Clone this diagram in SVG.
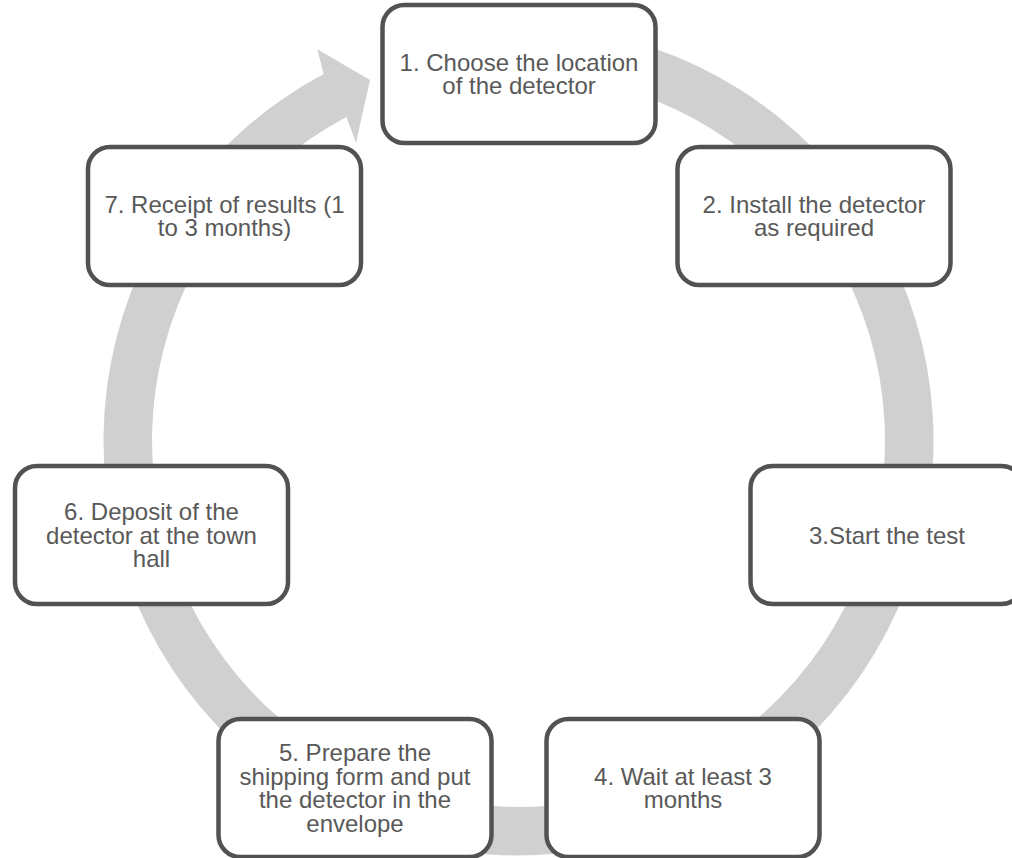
<svg xmlns="http://www.w3.org/2000/svg" width="1012" height="858" viewBox="0 0 1012 858">
<style>
.box{fill:#ffffff;stroke:#525252;stroke-width:4.5}
.lbl{font-family:"Liberation Sans",Arial,sans-serif;font-size:24px;fill:#595959;text-anchor:middle}
.ring{fill:#d0d0d0;stroke:none}
</style>
<rect x="0" y="0" width="1012" height="858" fill="#ffffff"/>
<g id="connectors">
<path class="ring" d="M554.67 27.08 A415 415 0 1 1 323.67 74.08 L317.3 49.3 L370 80 L356 142.7 L346.44 116.9 A366.5 366.5 0 1 0 550.44 75.4 Z"/>
</g>
<g id="node1">
<rect class="box" x="382.5" y="5" width="273" height="138" rx="22"/>
<text class="lbl" x="519" y="70.6">1. Choose the location</text>
<text class="lbl" x="519" y="94.4">of the detector</text>
</g>
<g id="node2">
<rect class="box" x="677.5" y="147" width="273" height="138" rx="22"/>
<text class="lbl" x="814" y="212.6">2. Install the detector</text>
<text class="lbl" x="814" y="236.4">as required</text>
</g>
<g id="node3">
<rect class="box" x="750.5" y="466" width="273" height="138" rx="22"/>
<text class="lbl" x="887" y="543.5">3.Start the test</text>
</g>
<g id="node4">
<rect class="box" x="546.5" y="719" width="273" height="138" rx="22"/>
<text class="lbl" x="683" y="784.6">4. Wait at least 3</text>
<text class="lbl" x="683" y="808.4">months</text>
</g>
<g id="node5">
<rect class="box" x="218.5" y="719" width="273" height="138" rx="22"/>
<text class="lbl" x="355" y="760.8">5. Prepare the</text>
<text class="lbl" x="355" y="784.6">shipping form and put</text>
<text class="lbl" x="355" y="808.4">the detector in the</text>
<text class="lbl" x="355" y="832.2">envelope</text>
</g>
<g id="node6">
<rect class="box" x="15" y="466" width="273" height="138" rx="22"/>
<text class="lbl" x="151.5" y="519.7">6. Deposit of the</text>
<text class="lbl" x="151.5" y="543.5">detector at the town</text>
<text class="lbl" x="151.5" y="567.3">hall</text>
</g>
<g id="node7">
<rect class="box" x="88" y="147" width="273" height="138" rx="22"/>
<text class="lbl" x="224.5" y="212.6">7. Receipt of results (1</text>
<text class="lbl" x="224.5" y="236.4">to 3 months)</text>
</g>
</svg>
